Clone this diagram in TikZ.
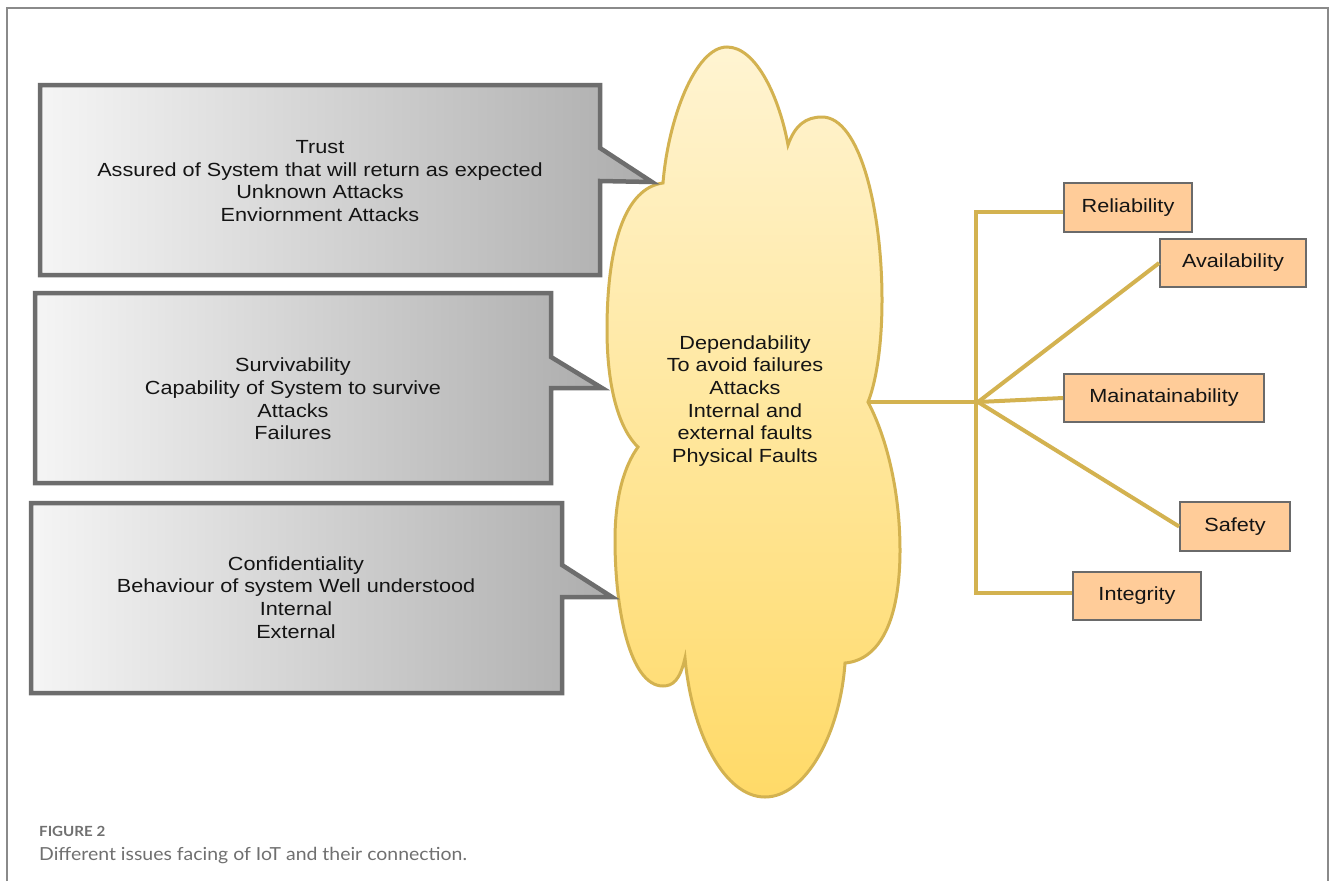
\documentclass[tikz,border=0pt]{standalone}
\usepackage{fontspec}
\setmainfont{Liberation Sans}
\newfontfamily\diagfont[FakeStretch=1.14]{Liberation Sans}
\newfontfamily\capfont[FakeStretch=1.08]{Lato}

\definecolor{frameline}{HTML}{8A8A8A}
\definecolor{calloutedge}{HTML}{6D6D6D}
\definecolor{grayL}{HTML}{F5F5F5}
\definecolor{grayR}{HTML}{ADADAD}
\definecolor{cloudT}{HTML}{FFF4D2}
\definecolor{cloudB}{HTML}{FFDA68}
\definecolor{gold}{HTML}{D3B250}
\definecolor{peach}{HTML}{FFCC99}
\definecolor{rboxedge}{HTML}{6A6A6A}
\definecolor{inkc}{HTML}{141414}
\definecolor{capgray}{HTML}{707070}

\begin{document}
\begin{tikzpicture}[x=1pt, y=-1pt,
  callout/.style={draw=calloutedge, line width=4.5pt, left color=grayL, right color=grayR, line join=miter},
  boxtext/.style={font=\diagfont\fontsize{19}{22.7}\selectfont, align=center, text=inkc, inner sep=0pt},
  rbox/.style={draw=rboxedge, line width=1.8pt, fill=peach, font=\diagfont\fontsize{19}{22.7}\selectfont, text=inkc, inner sep=0pt},
  link/.style={draw=gold, line width=4pt},
  captxt/.style={font=\capfont\fontsize{18}{21}\selectfont, text=capgray, inner sep=0pt, anchor=base west}
]
\useasboundingbox (0,0) rectangle (1330,881);
\fill[white] (0,0) rectangle (1330,881);

% outer frame, open at the bottom
\draw[frameline, line width=1.5pt] (7,881) -- (7,8) -- (1328,8) -- (1328,881);

% central cloud
\path[draw=gold, line width=3pt, top color=cloudT, bottom color=cloudB, line join=miter]
  (663,183) .. controls (668,120) and (695,47) .. (727,47)
  .. controls (757,47) and (780,100) .. (788,145)
  .. controls (795,125) and (806,117) .. (822,117)
  .. controls (860,117) and (882,210) .. (882,300)
  .. controls (882,350) and (875,385) .. (868,402)
  .. controls (888,440) and (900,495) .. (900,550)
  .. controls (900,620) and (880,660) .. (845,663)
  .. controls (840,735) and (805,797) .. (765,797)
  .. controls (725,797) and (692,735) .. (685,658)
  .. controls (680,680) and (673,686) .. (663,686)
  .. controls (630,686) and (615,610) .. (615,540)
  .. controls (615,495) and (625,465) .. (638,447)
  .. controls (620,430) and (607,390) .. (607,330)
  .. controls (607,245) and (625,188) .. (663,183) -- cycle;
\coordinate (cloudR) at (869,402);
\node[boxtext] (cloudTxt) at (745,401) {Dependability\\To avoid failures\\Attacks\\Internal and\\external faults\\Physical Faults};

% callouts on the left
\path[callout] (40,85) -- (600,85) -- (600,148) -- (652,182) -- (600,181) -- (600,275) -- (40,275) -- cycle;
\node[boxtext] (trustTxt) at (320,181) {Trust\\Assured of System that will return as expected\\Unknown Attacks\\Enviornment Attacks};

\path[callout] (35,293) -- (551,293) -- (551,357) -- (602,388) -- (551,388) -- (551,483) -- (35,483) -- cycle;
\node[boxtext] (survTxt) at (293,399) {Survivability\\Capability of System to survive\\Attacks\\Failures};

\path[callout] (31,503) -- (562,503) -- (562,565) -- (612,597) -- (562,597) -- (562,693) -- (31,693) -- cycle;
\node[boxtext] (confTxt) at (296,597.5) {Confidentiality\\Behaviour of system Well understood\\Internal\\External};

% attribute boxes
\node[rbox, minimum width=128pt, minimum height=49pt] (rel) at (1128,207.5) {Reliability};
\node[rbox, minimum width=146pt, minimum height=48pt] (avail) at (1233,263) {Availability};
\node[rbox, minimum width=200pt, minimum height=48pt] (maint) at (1164,398) {Mainatainability};
\node[rbox, minimum width=110pt, minimum height=49pt] (safety) at (1235,526.5) {Safety};
\node[rbox, minimum width=128pt, minimum height=48pt] (integ) at (1137,596) {Integrity};

% connectors from the cloud to the attributes
\coordinate (hub) at (978,402);
\coordinate (spine) at (976,402);
\draw[link] (cloudR) -- (hub);
\draw[link] ([yshift=-4.5pt]rel.west) -- ([yshift=-4.5pt]rel.west -| spine) -- ([yshift=3pt]integ.west -| spine) -- ([yshift=3pt]integ.west);
\draw[link] (hub) -- (avail.west);
\draw[link] (hub) -- (maint.west);
\draw[link] (hub) -- (safety.west);

% caption
\node[captxt, font=\capfont\bfseries\fontsize{14}{16}\selectfont] (figLabel) at (39,836.5) {FIGURE 2};
\node[captxt] (figCaption) at (39,860) {Different issues facing of IoT and their connection.};
\end{tikzpicture}
\end{document}
